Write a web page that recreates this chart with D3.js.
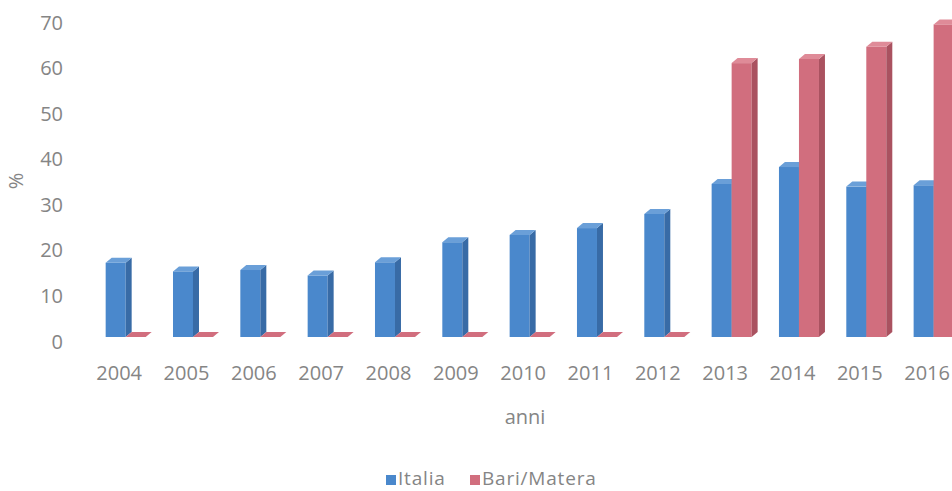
<!DOCTYPE html>
<html>
<head>
<meta charset="utf-8">
<script src="https://cdn.jsdelivr.net/npm/d3@7"></script>
<style>
  body { margin: 0; background: #fff; }
  svg text { font-family: 'Open Sans', sans-serif; fill: #858585; }
</style>
</head>
<body>
<svg id="chart" width="952" height="491"></svg>
<script>
const years = ['2004', '2005', '2006', '2007', '2008', '2009', '2010', '2011', '2012', '2013', '2014', '2015', '2016'];
const italia = [16.3, 14.4, 14.7, 13.5, 16.4, 20.8, 22.4, 23.9, 27.0, 33.6, 37.3, 33.0, 33.3];
const bariMatera = [0, 0, 0, 0, 0, 0, 0, 0, 0, 60.1, 61.0, 63.7, 68.6];
const series = ['Italia', 'Bari/Matera'];
const yTicks = [0, 10, 20, 30, 40, 50, 60, 70];

const depthX = 6;
const depthY = -5;

const faces = {
  'Italia': { front: '#4a88cc', side: '#386ba6', top: '#6a9fd8' },
  'Bari/Matera': { front: '#d16e7e', side: '#aa5260', top: '#df8b98' },
};

const rows = years.map((year, i) => ({ year, 'Italia': italia[i], 'Bari/Matera': bariMatera[i] }));

const svg = d3.select('#chart');

const xScale = d3.scaleBand()
  .domain(years)
  .range([85.5, 85.5 + 67.33 * years.length]);

const xSub = d3.scaleBand()
  .domain(series)
  .range([-13.5, 26.5]);

const yScale = d3.scaleLinear()
  .domain([0, 70])
  .range([337, 18]);

// y axis labels
const leftAxis = d3.axisLeft(yScale)
  .tickValues(yTicks)
  .tickSize(0)
  .tickPadding(0);

const gy = svg.append('g')
  .attr('transform', 'translate(63, 4.7)')
  .call(leftAxis);
gy.select('.domain').remove();
gy.selectAll('text').style('font-size', '20px').attr('fill', null);

// x axis labels
const bottomAxis = d3.axisBottom(xScale)
  .tickSize(0)
  .tickPadding(0);

const gx = svg.append('g')
  .attr('transform', 'translate(0, 380)')
  .call(bottomAxis);
gx.select('.domain').remove();
gx.selectAll('text').style('font-size', '20px').attr('dy', '0').attr('fill', null);

// axis titles
svg.append('text')
  .text('%')
  .attr('transform', 'translate(23, 181) rotate(-90)')
  .attr('text-anchor', 'middle')
  .style('font-size', '20px');

svg.append('text')
  .text('anni')
  .attr('x', 525)
  .attr('y', 424)
  .attr('text-anchor', 'middle')
  .style('font-size', '20px');

// 3d columns
const bars = [];
rows.forEach((row) => {
  series.forEach((s) => {
    bars.push({ year: row.year, key: s, value: row[s] });
  });
});

const barG = svg.append('g');

bars.forEach((d) => {
  const x0 = xScale(d.year) + xScale.bandwidth() / 2 + xSub(d.key);
  const w = xSub.bandwidth();
  const yTop = yScale(d.value);
  const yBase = yScale(0);
  const c = faces[d.key];
  const g = barG.append('g');

  if (d.value > 0) {
    g.append('rect')
      .attr('x', x0)
      .attr('y', yTop)
      .attr('width', w)
      .attr('height', yBase - yTop)
      .attr('fill', c.front);
    g.append('path')
      .attr('d', `M${x0 + w},${yTop} L${x0 + w + depthX},${yTop + depthY} L${x0 + w + depthX},${yBase + depthY} L${x0 + w},${yBase} Z`)
      .attr('fill', c.side);
  }
  g.append('path')
    .attr('d', `M${x0},${yTop} L${x0 + w},${yTop} L${x0 + w + depthX},${yTop + depthY} L${x0 + depthX},${yTop + depthY} Z`)
    .attr('fill', d.value > 0 ? c.top : c.front);
});

// legend
const legend = svg.append('g');
const legendX = [386, 470];
series.forEach((s, i) => {
  legend.append('rect')
    .attr('x', legendX[i])
    .attr('y', 475)
    .attr('width', 10)
    .attr('height', 10)
    .attr('fill', faces[s].front);
  legend.append('text')
    .text(s)
    .attr('x', legendX[i] + 12)
    .attr('y', 485)
    .style('font-size', '19px')
    .style('letter-spacing', '0.8px');
});
</script>
</body>
</html>
